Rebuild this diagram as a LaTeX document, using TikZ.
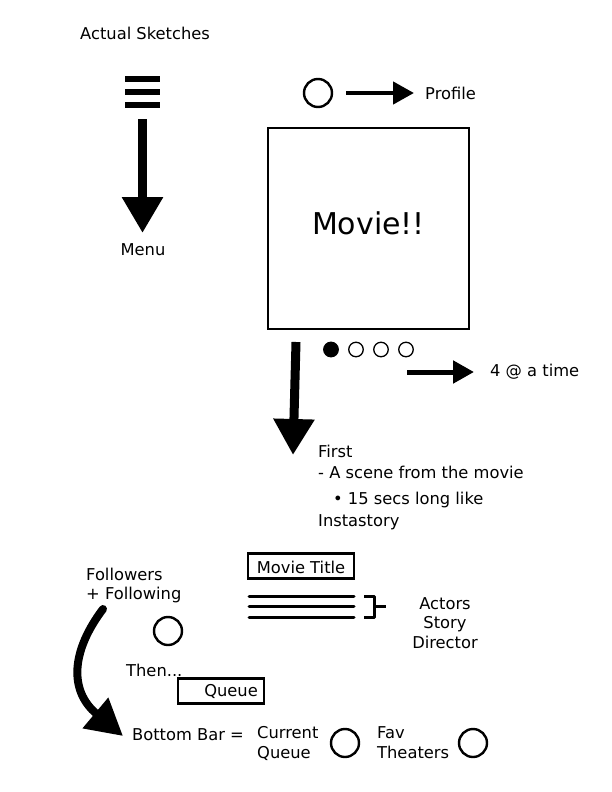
\documentclass[tikz,border=0pt]{standalone}
\usepackage{fontspec}
\setmainfont{DejaVu Sans}
\usetikzlibrary{arrows.meta}
\begin{document}
\begin{tikzpicture}[x=1pt,y=-1pt,
  txt/.style={font=\fontsize{16.3}{19}\selectfont, inner sep=0pt},
  ring/.style={circle, draw, line width=2.4pt, minimum size=28pt, inner sep=0pt},
  dot/.style={circle, draw, line width=1.3pt, minimum size=14.5pt, inner sep=0pt},
  bar/.style={line width=6pt},
  bigarrow/.style={line width=9pt, -{Triangle[length=36pt,width=39pt]}},
  smallarrow/.style={line width=4.5pt, -{Triangle[length=21pt,width=22pt]}},
  box/.style={draw, line width=2.4pt, inner sep=0pt},
  tline/.style={line width=3pt, line cap=round}]
\useasboundingbox (0,0) rectangle (612,792);
% title
\node[txt, anchor=west] (title) at (80,33) {Actual Sketches};
% hamburger
\draw[bar] (125,79) -- (160,79);
\draw[bar] (125,92) -- (160,92);
\draw[bar] (125,105) -- (160,105);
\coordinate (menutop) at (142.5,119);
\coordinate (menutip) at (142.5,233);
\draw[bigarrow] (menutop) -- (menutip);
\node[txt] (menu) at (143,250) {Menu};
% profile
\node[ring] (prof) at (318,93) {};
\coordinate (pa) at (346,93);
\coordinate (pb) at (414,93);
\draw[smallarrow] (pa) -- (pb);
\node[txt, anchor=west] (proflbl) at (425,93) {Profile};
% big box
\node[box, minimum width=201pt, minimum height=201pt] (movie) at (368.5,228.5) {};
\node[font=\fontsize{30}{34}\selectfont, inner sep=0pt] (movietxt) at (368.5,223) {Movie!!};
% dots
\node[dot, fill=black] (d1) at (331,349.5) {};
\node[dot] (d2) at (356,349.5) {};
\node[dot] (d3) at (381,349.5) {};
\node[dot] (d4) at (406,349.5) {};
% down arrow
\coordinate (dtop) at (296,342);
\coordinate (dtip) at (293,455);
\draw[bigarrow] (dtop) -- (dtip);
% 4 at a time
\coordinate (ta) at (407,372);
\coordinate (tb) at (474,372);
\draw[line width=5pt, -{Triangle[length=21pt,width=22pt]}] (ta) -- (tb);
\node[txt, anchor=west] (four) at (490,372) {4 @ a time};
% first text
\node[txt, anchor=west] (first) at (318,451) {First};
\node[txt, anchor=west] (scene) at (318,472) {- A scene from the movie};
\node[txt, anchor=west] (secs) at (333,500) {\textbullet\ 15 secs long like};
\node[txt, anchor=west] (insta) at (318,522) {Instastory};
% followers
\node[txt, anchor=west] (foll) at (86,574) {Followers};
\node[txt, anchor=west] (follg) at (86,595) {+ Following};
\node[ring] (fcirc) at (168,631) {};
\node[txt, anchor=west] (then) at (126,670) {Then...};
\node[box, minimum width=86pt, minimum height=25pt] (qbox) at (221,691) {};
\node[txt, anchor=east] (qtxt) at (258,691) {Queue};
% movie title
\node[box, minimum width=106pt, minimum height=25pt] (mtbox) at (301,566) {};
\node[txt] (mttxt) at (301,567) {Movie Title};
\draw[tline] (249,596) -- (354,596);
\draw[tline] (249,606.5) -- (354,606.5);
\draw[tline] (249,617) -- (354,617);
\draw[line width=3pt, line join=round] (364,596) -- (374,596) -- (374,617) -- (364,617);
\coordinate (brk) at (374,606.5);
\coordinate (brkend) at (386,606.5);
\draw[line width=3pt] (brk) -- (brkend);
\node[txt, align=center, font=\fontsize{16.3}{19.2}\selectfont] (acts) at (445,623) {Actors\\Story\\Director};
% curved arrow
\coordinate (ca) at (103,609);
\coordinate (cb) at (123,736);
\draw[line width=8pt, line cap=round, -{Triangle[length=36pt,width=38pt]}] (ca) .. controls (72,650) and (68,690) .. (cb);
% bottom bar
\node[txt, anchor=west] (bb) at (132,735) {Bottom Bar =};
\node[txt, anchor=west, align=left, font=\fontsize{16.3}{20}\selectfont] (cq) at (257,743) {Current\\Queue};
\node[ring] (cqc) at (345,743) {};
\node[txt, anchor=west, align=left, font=\fontsize{16.3}{20}\selectfont] (fav) at (377,743) {Fav\\Theaters};
\node[ring] (favc) at (473,743) {};
\end{tikzpicture}
\end{document}
